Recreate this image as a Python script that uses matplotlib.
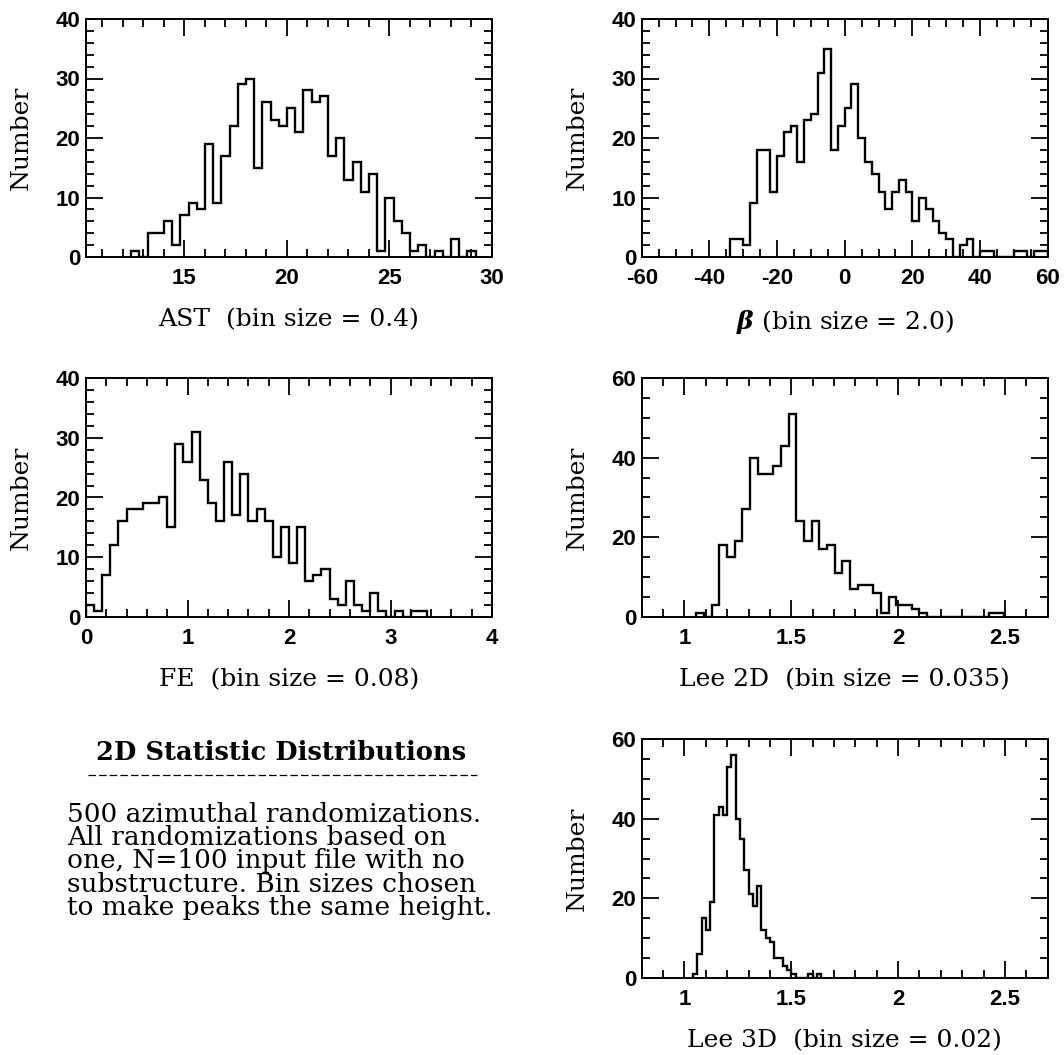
import numpy as np
import matplotlib
matplotlib.use('Agg')
import matplotlib.pyplot as plt
from matplotlib.lines import Line2D

plt.rcParams['mathtext.fontset'] = 'dejavuserif'
plt.rcParams['axes.unicode_minus'] = False

# histogram counts (500 randomizations each)
ast_start, ast_width = 12.4, 0.4
ast_counts = [1, 0, 4, 4, 6, 2, 7, 9, 8, 19, 9, 17, 22, 29, 30, 15, 26, 23, 22, 25, 21,
              28, 26, 27, 17, 20, 13, 16, 11, 14, 1, 10, 6, 4, 1, 2, 0, 1, 0, 3, 0, 1]

beta_start, beta_width = -34.0, 2.0
beta_counts = [3, 3, 2, 9, 18, 18, 11, 17, 21, 22, 16, 23, 24, 31, 35, 18, 22, 25, 29, 20,
               16, 14, 11, 8, 11, 13, 11, 6, 10, 8, 6, 4, 3, 0, 2, 3, 0, 1, 1, 0, 0, 0,
               1, 1, 0, 1, 1]

fe_start, fe_width = 0.0, 0.08
fe_counts = [2, 1, 7, 12, 16, 18, 18, 19, 19, 20, 15, 29, 26, 31, 23, 19, 16, 26, 17, 24,
             16, 18, 16, 10, 15, 9, 15, 6, 7, 8, 3, 2, 6, 2, 1, 4, 1, 0, 1, 0, 1, 1]

lee2_start, lee2_width = 1.055, 0.036
lee2_counts = [1, 0, 3, 18, 15, 19, 27, 40, 36, 36, 38, 43, 51, 24, 19, 24, 17, 18, 11, 14,
               7, 8, 8, 6, 1, 5, 3, 3, 2, 1, 0, 0, 0, 0, 0, 0, 0, 0, 1, 1]

lee3_start, lee3_width = 1.04, 0.02
lee3_counts = [1, 6, 15, 12, 19, 41, 43, 41, 53, 56, 40, 35, 27, 21, 18, 23, 12, 10, 9, 5,
               5, 3, 2, 1, 0, 0, 0, 1, 0, 1]

xlabels = ['AST  (bin size = 0.4)', r'$\boldsymbol{\beta}$ (bin size = 2.0)',
           'FE  (bin size = 0.08)', 'Lee 2D  (bin size = 0.035)', 'Lee 3D  (bin size = 0.02)']

note_title = '2D Statistic Distributions'
note_lines = ['500 azimuthal randomizations.',
              'All randomizations based on',
              'one, N=100 input file with no',
              'substructure. Bin sizes chosen',
              'to make peaks the same height.']

SERIF = 'DejaVu Serif'
SANS = 'Liberation Sans'
TICK_FS = 16
LABEL_FS = 18


def panel(fig, rect, start, width, counts, xlim, xmin, ylim, ymaj, ymin, xlabel, xticks):
    ax = fig.add_axes(rect)
    edges = start + width * np.arange(len(counts) + 1)
    ax.stairs(counts, edges, baseline=0, color='black', lw=1.7)
    ax.set_xlim(*xlim)
    ax.set_ylim(*ylim)
    ax.xaxis.set_major_locator(plt.FixedLocator(xticks))
    ax.xaxis.set_minor_locator(plt.MultipleLocator(xmin))
    ax.yaxis.set_major_locator(plt.MultipleLocator(ymaj))
    ax.yaxis.set_minor_locator(plt.MultipleLocator(ymin))
    ax.set_xticklabels(['%g' % v for v in xticks])
    ax.tick_params(which='both', direction='in', top=True, right=True, width=1.3, colors='black')
    ax.tick_params(which='major', length=12)
    ax.tick_params(which='minor', length=6)
    ax.tick_params(axis='x', which='major', pad=8)
    ax.tick_params(axis='y', which='major', pad=4)
    for lab in ax.get_xticklabels() + ax.get_yticklabels():
        lab.set_fontfamily(SANS)
        lab.set_fontsize(TICK_FS)
        lab.set_fontweight('bold')
    for s in ax.spines.values():
        s.set_linewidth(1.4)
    ax.set_ylabel('Number', family=SERIF, fontsize=LABEL_FS)
    ax.yaxis.set_label_coords(-0.13, 0.5)
    ax.set_xlabel(xlabel, family=SERIF, fontsize=LABEL_FS)
    ax.xaxis.set_label_coords(0.5, -0.215)
    return ax


fig = plt.figure(figsize=(10.64, 10.55), dpi=100)

W, H = 1064.0, 1055.0
lx, rx = 86 / W, 641.7 / W
aw = 406 / W
rows = [(19, 257), (378, 617), (739, 978)]


def rect(x, row):
    top, bot = rows[row]
    return [x, (H - bot) / H, aw, (bot - top) / H]


panel(fig, rect(lx, 0), ast_start, ast_width, ast_counts, (10.2, 30), 1, (0, 40), 10, 2,
      xlabels[0], [15, 20, 25, 30])
panel(fig, rect(rx, 0), beta_start, beta_width, beta_counts, (-60, 60), 5, (0, 40), 10, 2,
      xlabels[1], [-60, -40, -20, 0, 20, 40, 60])
panel(fig, rect(lx, 1), fe_start, fe_width, fe_counts, (0, 4), 0.2, (0, 40), 10, 2,
      xlabels[2], [0, 1, 2, 3, 4])
panel(fig, rect(rx, 1), lee2_start, lee2_width, lee2_counts, (0.8, 2.7), 0.1, (0, 60), 20, 5,
      xlabels[3], [1, 1.5, 2, 2.5])
panel(fig, rect(rx, 2), lee3_start, lee3_width, lee3_counts, (0.8, 2.7), 0.1, (0, 60), 20, 5,
      xlabels[4], [1, 1.5, 2, 2.5])

# note block in the lower left
fig.text(281 / W, (H - 752) / H, note_title, family=SERIF, fontweight='bold',
         fontsize=18.5, ha='center', va='center')
fig.add_artist(Line2D([88 / W, 477 / W], [(H - 775) / H] * 2, transform=fig.transFigure,
                      color='black', lw=0.9, linestyle=(0, (6, 2.5))))
for i, line in enumerate(note_lines):
    fig.text(67 / W, (H - (821.7 + 23.3 * i)) / H, line, family=SERIF, fontsize=19,
             ha='left', va='baseline')

fig.savefig('out.png', dpi=100, facecolor='white')
